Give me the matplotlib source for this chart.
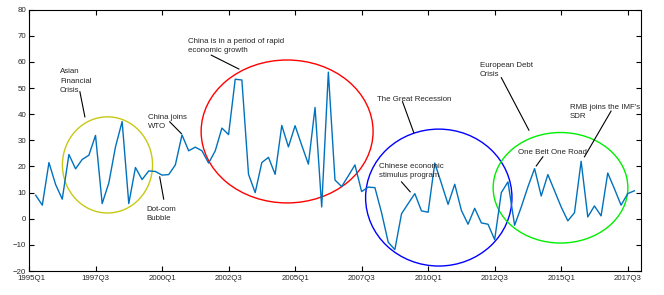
import matplotlib
matplotlib.use('Agg')
import matplotlib.pyplot as plt
import matplotlib.transforms as mtransforms
from matplotlib.patches import Ellipse

# quarterly growth series, 1995Q1 onwards (plotted at x = 1..91)
values = [9.0, 5.2, 21.5, 13.1, 7.5, 24.6, 19.1, 22.7, 24.3, 31.9,
          5.8, 13.7, 27.5, 37.2, 5.8, 19.6, 15.0, 18.3, 18.1, 16.7,
          16.9, 20.6, 32.1, 26.0, 27.4, 26.0, 21.3, 26.0, 34.7, 32.2,
          53.4, 53.1, 17.0, 10.0, 21.5, 23.5, 17.0, 35.7, 27.5, 35.6,
          28.1, 20.9, 42.6, 4.5, 56.1, 14.8, 12.3, 16.4, 20.6, 10.4,
          12.1, 11.9, 2.3, -9.0, -11.8, 1.9, 5.8, 9.6, 3.0, 2.5,
          21.3, 13.5, 5.5, 13.2, 3.2, -2.1, 4.0, -1.6, -2.1, -8.0,
          10.0, 14.1, -2.5, 4.5, 12.2, 19.2, 8.7, 16.9, 10.7, 4.5,
          -0.8, 2.3, 22.0, 0.7, 4.9, 1.1, 17.5, 11.5, 5.2, 9.6, 10.7]
xticks = [0, 10, 20, 30, 40, 50, 60, 70, 80, 90]
xticklabels = ['1995Q1', '1997Q3', '2000Q1', '2002Q3', '2005Q1',
               '2007Q3', '2010Q1', '2012Q3', '2015Q1', '2017Q3']

# events: text, text position, line start, line end
events = [
    ('Asian\nFinancial\nCrisis', (4.65, 57.5), (7.65, 48.6), (8.4, 39.0)),
    ('China joins\nWTO', (17.9, 40.0), (21.15, 37.1), (22.9, 32.6)),
    ('Dot-com\nBubble', (17.6, 5.0), (19.65, 16.0), (20.25, 7.5)),
    ('China is in a period of rapid\neconomic growth', (23.9, 69.2), (27.4, 62.6), (31.55, 57.3)),
    ('The Great Recession', (52.3, 47.1), (56.15, 44.8), (57.85, 32.9)),
    ('Chinese economic\nstimulus program', (52.6, 21.4), (56.0, 14.1), (57.3, 10.3)),
    ('European Debt\nCrisis', (67.8, 60.0), (71.0, 54.0), (75.15, 33.9)),
    ('RMB joins the IMF\'s\nSDR', (81.3, 44.0), (87.5, 41.2), (83.5, 23.7)),
    ('One Belt One Road', (73.5, 26.5), (77.25, 23.7), (76.25, 20.2)),
]

# circled periods: centre, width, height, colour
periods = [
    ((11.8, 20.6), 13.55, 36.8, '#c8c814'),
    ((38.8, 33.4), 25.85, 54.7, '#ff0000'),
    ((61.6, 8.1), 22.0, 52.4, '#0000ff'),
    ((79.9, 11.85), 20.25, 42.3, '#00ee00'),
]

plt.rcParams['font.family'] = ['Liberation Sans', 'DejaVu Sans']

fig = plt.figure(figsize=(6.64, 2.95), dpi=100)
ax = fig.add_axes([29 / 664, 1 - 271 / 295, 612 / 664, 261.3 / 295])

x = list(range(1, len(values) + 1))
ax.plot(x, values, color='#0072bd', lw=1.0, zorder=3)

for (c, w, h, col) in periods:
    ax.add_patch(Ellipse(c, w, h, fill=False, edgecolor=col, lw=1.0, zorder=2))

for (txt, pos, p0, p1) in events:
    ax.text(pos[0], pos[1], txt, fontsize=5.7, color='#262626',
            ha='left', va='top', linespacing=1.45, zorder=4)
    ax.plot([p0[0], p1[0]], [p0[1], p1[1]], color='black', lw=0.8, zorder=4)

ax.set_xlim(0, 92)
ax.set_ylim(-20, 80)
ax.set_xticks(xticks)
ax.set_xticklabels(xticklabels)
ax.set_yticks(range(-20, 81, 10))
ax.tick_params(direction='in', length=3.5, width=0.8, labelsize=5.7,
               labelcolor='#262626', top=True, right=True, pad=2)
ax.tick_params(axis='x', pad=2.6)
for s in ax.spines.values():
    s.set_linewidth(0.8)

# first date label sits a little to the right of its tick, as in the original
first = ax.get_xticklabels()[0]
first.set_transform(first.get_transform() + mtransforms.ScaledTranslation(2 / 100, 0, fig.dpi_scale_trans))

fig.savefig('out.png', dpi=100)
